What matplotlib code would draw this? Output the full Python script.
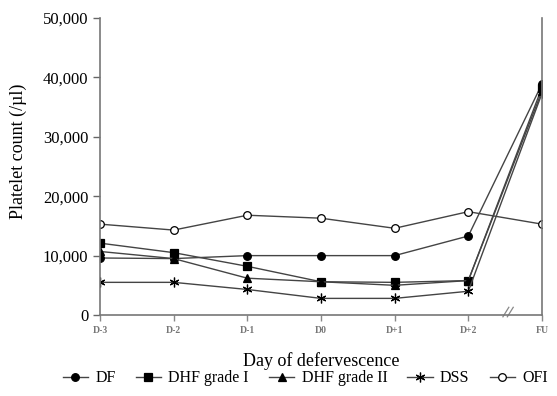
import matplotlib.pyplot as plt
import numpy as np

plt.rcParams['font.family'] = ['Liberation Serif', 'DejaVu Serif']

days = ['D-3', 'D-2', 'D-1', 'D0', 'D+1', 'D+2', 'FU']
df = [9600, 9500, 10000, 10000, 10000, 13300, 38900]
dhf1 = [12100, 10500, 8200, 5600, 5500, 5800, 38300]
dhf2 = [10700, 9500, 6200, 5600, 5000, 5800, 37700]
dss = [5500, 5500, 4300, 2800, 2800, 4000, 37300]
ofi = [15300, 14300, 16800, 16300, 14600, 17400, 15300]

series = [
    ('DF', df, 'o', 'black'),
    ('DHF grade I', dhf1, 's', 'black'),
    ('DHF grade II', dhf2, '^', 'black'),
    ('DSS', dss, (6, 2, 0), 'black'),
    ('OFI', ofi, 'o', 'white'),
]

fig = plt.figure(figsize=(5.57, 3.96), dpi=100)
ax = fig.add_axes([0.1795, 0.2045, 0.7935, 0.75])

x = np.arange(len(days))
handles = []
for name, vals, mk, fc in series:
    h, = ax.plot(x, vals, color='#444444', lw=1.0, marker=mk,
                 ms=7 if mk == (6, 2, 0) else 5.5,
                 mfc=fc, mec='black', mew=0.9, label=name)
    handles.append(h)

ax.set_xlim(0, 6)
ax.set_ylim(0, 50000)
ax.set_yticks(range(0, 50001, 10000))
ax.set_yticklabels([f'{v:,}' for v in range(0, 50001, 10000)], fontsize=12)
ax.set_xticks(x)
ax.set_xticklabels(days, fontsize=7, fontweight='bold', color='#777777')
ax.tick_params(axis='y', length=5, width=1, color='#666666')
ax.tick_params(axis='x', length=4, width=1, color='#888888', pad=4)
for s in ['left', 'bottom', 'right']:
    ax.spines[s].set_color('#777777')
    ax.spines[s].set_linewidth(1.2)
ax.spines['top'].set_visible(False)

# axis break mark between D+2 and FU
for dx in (0, 0.06):
    ax.plot([5.47 + dx, 5.55 + dx], [-300, 1300], color='#888888', lw=0.9,
            clip_on=False)

ax.set_ylabel('Platelet count (/\u00b5l)', fontsize=13)
ax.yaxis.set_label_coords(-0.165, 0.55)
ax.set_xlabel('Day of defervescence', fontsize=13, labelpad=12)

fig.legend(handles=handles, loc='center', bbox_to_anchor=(0.548, 0.045), ncol=5,
           frameon=False, fontsize=11.5, handlelength=1.6, handletextpad=0.45,
           columnspacing=1.25, borderaxespad=0, borderpad=0)

fig.savefig('out.png', dpi=100)
